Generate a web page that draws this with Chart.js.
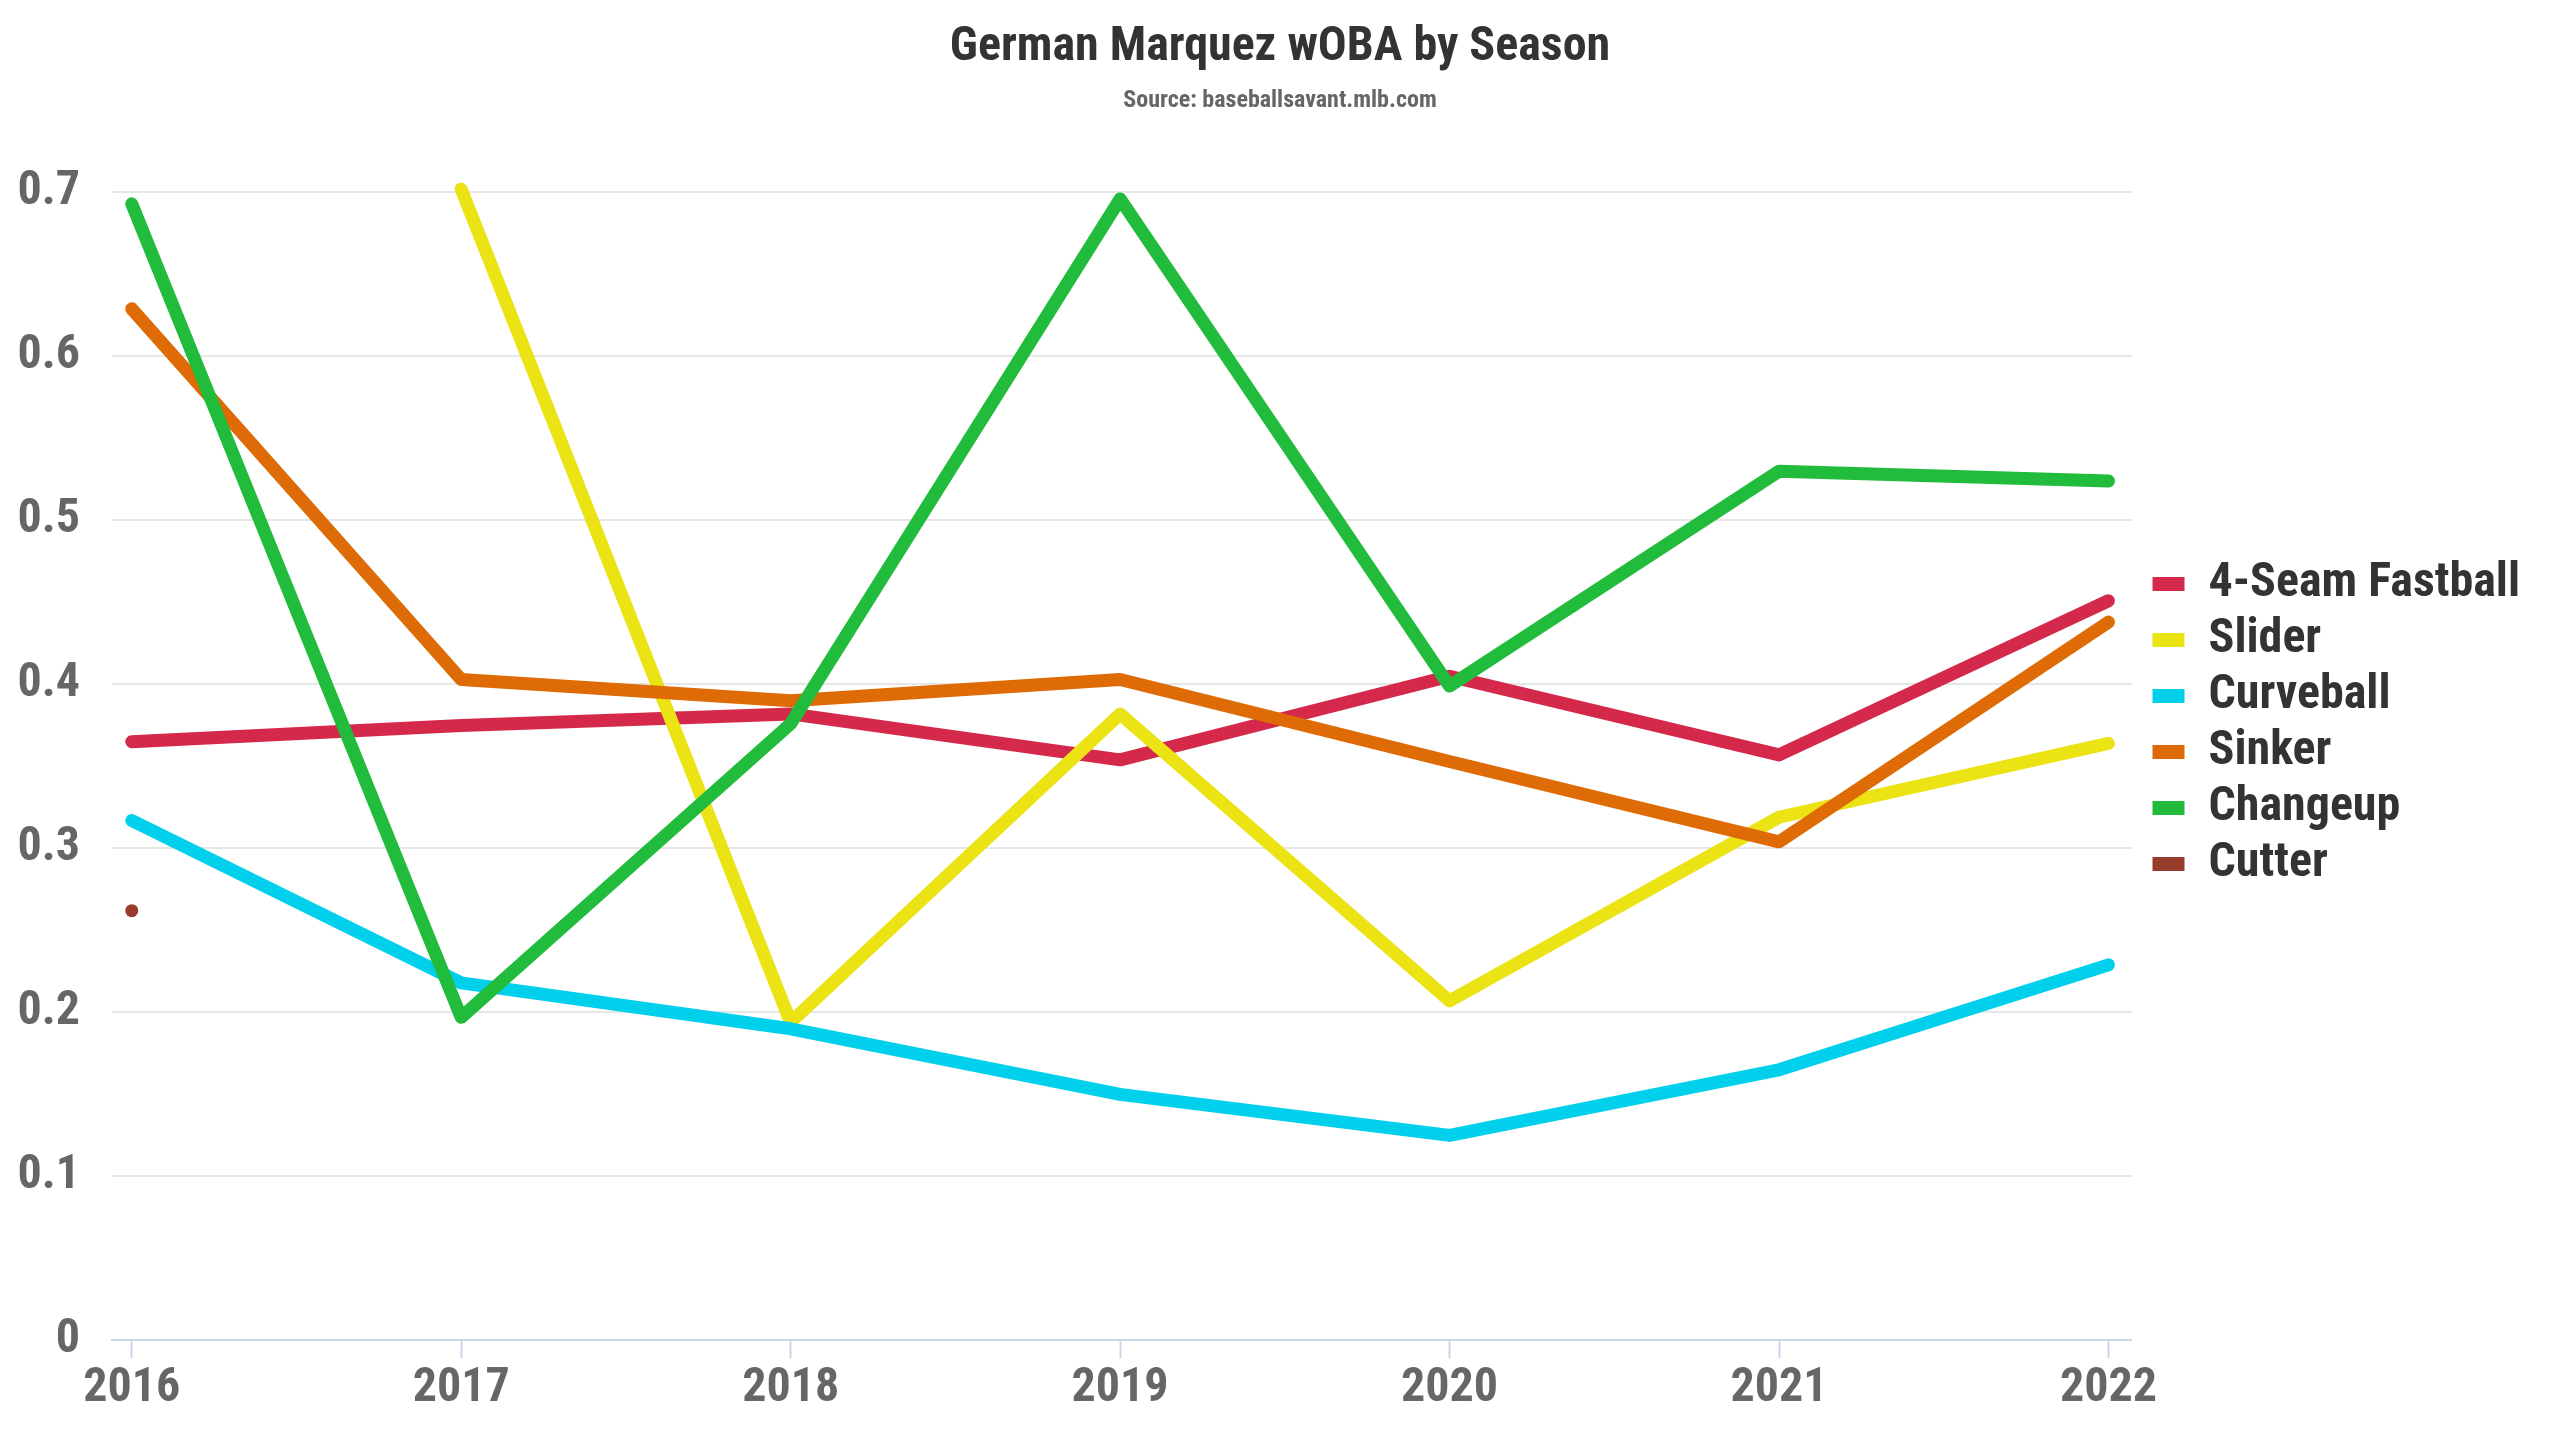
<!DOCTYPE html>
<html>
<head>
<meta charset="utf-8">
<title>German Marquez wOBA by Season</title>
<script src="https://cdn.jsdelivr.net/npm/chart.js@4"></script>
<style>
    html, body { margin: 0; padding: 0; background: #fff; }
    #wrap { width: 2560px; height: 1440px; position: relative; }
</style>
</head>
<body>
<div id="wrap"><canvas id="woba-chart"></canvas></div>
<script>
// Seasons and wOBA per pitch type
const seasons = [2016, 2017, 2018, 2019, 2020, 2021, 2022];
const fourSeam = [0.365, 0.375, 0.382, 0.354, 0.405, 0.357, 0.451];
const slider = [null, 0.702, 0.194, 0.382, 0.207, 0.319, 0.364];
const curveball = [0.317, 0.218, 0.190, 0.150, 0.125, 0.165, 0.229];
const sinker = [0.629, 0.403, 0.390, 0.403, 0.353, 0.304, 0.438];
const changeup = [0.693, 0.197, 0.376, 0.696, 0.399, 0.530, 0.524];
const cutter = [0.262, null, null, null, null, null, null];
const yTicks = [0, 0.1, 0.2, 0.3, 0.4, 0.5, 0.6, 0.7];

const pitchNames = ['4-Seam Fastball', 'Slider', 'Curveball', 'Sinker', 'Changeup', 'Cutter'];
const pitchColors = ['#d4294b', '#ebe314', '#00d0eb', '#de6b06', '#21bc3b', '#973b2b'];
const pitchValues = [fourSeam, slider, curveball, sinker, changeup, cutter];

// widen the legend box so it leaves a margin on its right side
const legendGap = {
    id: 'legendGap',
    beforeLayout(chart) {
        const lg = chart.legend;
        if (lg && !lg._gapPatched) {
            const fit = lg.fit;
            lg.fit = function() {
                fit.call(this);
                this.width += 30;
            };
            lg._gapPatched = true;
        }
    }
};

document.addEventListener('DOMContentLoaded', function() {
    Chart.defaults.font.family = '"Roboto Condensed", "Liberation Sans Narrow", "Arial Narrow", "DejaVu Sans Condensed", Roboto, sans-serif';
    Chart.defaults.font.weight = 'bold';

    const datasets = pitchNames.map((name, i) => ({
        label: name,
        data: seasons.map((s, j) => ({ x: s, y: pitchValues[i][j] })),
        borderColor: pitchColors[i],
        backgroundColor: pitchColors[i],
        borderWidth: 13,
        borderCapStyle: 'round',
        borderJoinStyle: 'round',
        pointRadius: name === 'Cutter' ? 3 : 0,
        pointBorderWidth: 0,
        pointHoverRadius: 0,
        spanGaps: false,
        clip: false,
        order: pitchNames.length - 1 - i   // later series on top
    }));

    const ctx = document.getElementById('woba-chart');
    new Chart(ctx, {
        type: 'line',
        data: { datasets: datasets },
        plugins: [legendGap],
        options: {
            responsive: true,
            maintainAspectRatio: false,
            animation: false,
            layout: {
                padding: { top: 0, right: 0, bottom: 20, left: 0 }
            },
            plugins: {
                title: {
                    display: true,
                    text: 'German Marquez wOBA by Season',
                    color: '#333333',
                    font: { size: 48, weight: 'bold' },
                    padding: { top: 19, bottom: 4 }
                },
                subtitle: {
                    display: true,
                    text: 'Source: baseballsavant.mlb.com',
                    color: '#666666',
                    font: { size: 24, weight: 'bold' },
                    padding: { top: 6, bottom: 77 }
                },
                legend: {
                    display: true,
                    position: 'right',
                    title: {
                        display: true,
                        text: ' ',
                        font: { size: 10 },
                        padding: 8
                    },
                    labels: {
                        color: '#333333',
                        font: { size: 48, weight: 'bold' },
                        boxWidth: 32,
                        boxHeight: 14,
                        padding: 8,
                        generateLabels: function(chart) {
                            return chart.data.datasets.map((ds, i) => ({
                                text: ds.label,
                                fillStyle: ds.borderColor,
                                strokeStyle: ds.borderColor,
                                fontColor: '#333333',
                                lineWidth: 0,
                                hidden: false,
                                datasetIndex: i
                            }));
                        }
                    }
                },
                tooltip: { enabled: false }
            },
            scales: {
                x: {
                    type: 'linear',
                    min: seasons[0] - 0.06,
                    max: seasons[seasons.length - 1] + 0.07,
                    afterBuildTicks: function(scale) {
                        scale.ticks = seasons.map(v => ({ value: v }));
                    },
                    grid: {
                        drawOnChartArea: false,
                        drawTicks: true,
                        tickLength: 18,
                        tickColor: '#ccd6eb',
                        tickWidth: 2
                    },
                    border: { display: true, color: '#ccd6eb', width: 2 },
                    ticks: {
                        color: '#666666',
                        font: { size: 48, weight: 'bold' },
                        padding: 2,
                        maxRotation: 0,
                        autoSkip: false,
                        callback: function(value) { return String(value); }
                    }
                },
                y: {
                    min: 0,
                    max: 0.7,
                    afterBuildTicks: function(scale) {
                        scale.ticks = yTicks.map(v => ({ value: v }));
                    },
                    afterFit: function(scale) {
                        scale.width = 112;
                    },
                    grid: {
                        color: '#e6e6e6',
                        lineWidth: 2,
                        drawTicks: false
                    },
                    border: { display: false },
                    ticks: {
                        color: '#666666',
                        font: { size: 48, weight: 'bold' },
                        padding: 32,
                        callback: function(value) {
                            return value === 0 ? '0' : value.toFixed(1);
                        }
                    }
                },
                // empty spacer between plot and legend
                ySpacer: {
                    position: 'right',
                    display: true,
                    grid: { display: false },
                    border: { display: false },
                    ticks: { display: false },
                    afterFit: function(scale) {
                        scale.width = 13;
                    }
                }
            }
        }
    });
});
</script>
</body>
</html>
